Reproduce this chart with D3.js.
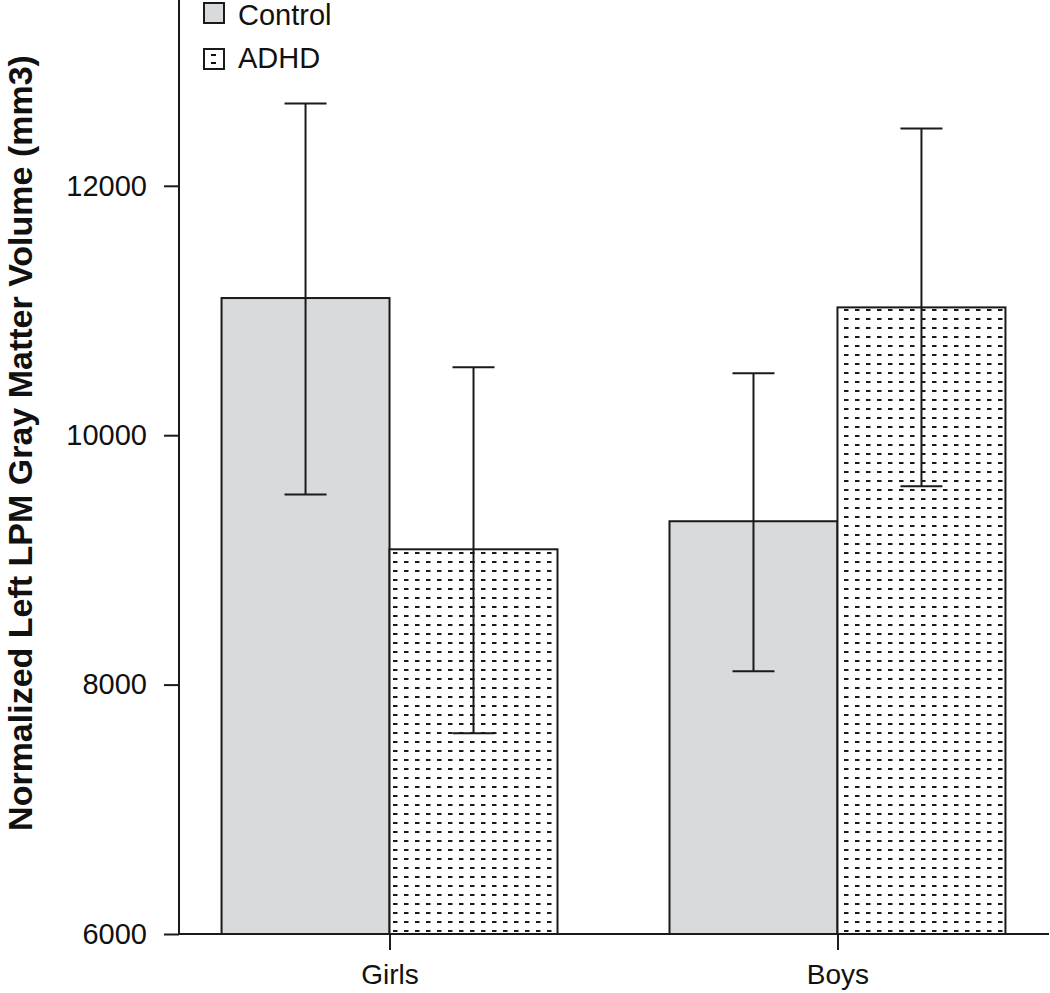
<!DOCTYPE html>
<html><head><meta charset="utf-8">
<script src="https://cdn.jsdelivr.net/npm/d3@7"></script>
<style>body{margin:0;background:#fff}svg{display:block}text{font-family:"Liberation Sans",Arial,sans-serif}</style>
</head><body>
<script>
const categories = ["Girls", "Boys"];
const groups = ["Control", "ADHD"];
const controlMean = [11100, 9310];
const controlLow = [9525, 8108];
const controlHigh = [12660, 10497];
const adhdMean = [9085, 11025];
const adhdLow = [7610, 9590];
const adhdHigh = [10545, 12460];
const yTicks = [6000, 8000, 10000, 12000];

const W = 1050, H = 993;
const FONT = "Liberation Sans, Arial, sans-serif";
const svg = d3.select("body").append("svg").attr("width", W).attr("height", H);
const defs = svg.append("defs");
const pat = defs.append("pattern").attr("id", "dots").attr("patternUnits", "userSpaceOnUse")
  .attr("width", 11).attr("height", 9).attr("x", 393).attr("y", 552);
pat.append("rect").attr("width", 11).attr("height", 9).attr("fill", "#fff");
pat.append("rect").attr("x", 0).attr("y", 0).attr("width", 4.5).attr("height", 2).attr("fill", "#1a1a1a");

const y = d3.scaleLinear().domain([6000, 13490]).range([934, 0]);
const x0 = d3.scaleBand().domain(categories).range([179, 1048]).paddingInner(0.25).paddingOuter(0.095);
const x1 = d3.scaleBand().domain(groups).range([0, x0.bandwidth()]);

const data = [];
categories.forEach((c, i) => {
  data.push({c, g: "Control", v: controlMean[i], lo: controlLow[i], hi: controlHigh[i]});
  data.push({c, g: "ADHD", v: adhdMean[i], lo: adhdLow[i], hi: adhdHigh[i]});
});
const fill = g => g === "Control" ? "#d9dadc" : "url(#dots)";

svg.selectAll("rect.bar").data(data).enter().append("rect").attr("class", "bar")
  .attr("x", d => x0(d.c) + x1(d.g)).attr("width", x1.bandwidth())
  .attr("y", d => y(d.v)).attr("height", d => y(6000) - y(d.v))
  .attr("fill", d => fill(d.g)).attr("stroke", "#1a1a1a").attr("stroke-width", 2);

const cap = 21;
const cx = d => x0(d.c) + x1(d.g) + x1.bandwidth() / 2;
const eb = svg.selectAll("g.eb").data(data).enter().append("g").attr("stroke", "#1a1a1a").attr("stroke-width", 2);
eb.append("line").attr("x1", cx).attr("x2", cx).attr("y1", d => y(d.lo)).attr("y2", d => y(d.hi));
eb.append("line").attr("x1", d => cx(d) - cap).attr("x2", d => cx(d) + cap).attr("y1", d => y(d.hi)).attr("y2", d => y(d.hi));
eb.append("line").attr("x1", d => cx(d) - cap).attr("x2", d => cx(d) + cap).attr("y1", d => y(d.lo)).attr("y2", d => y(d.lo));

// Y axis
const ya = svg.append("g").attr("transform", "translate(179,0)")
  .call(d3.axisLeft(y).tickValues(yTicks).tickSize(15).tickPadding(17).tickFormat(d3.format("d")));
ya.attr("font-size", 29).attr("font-family", FONT);
ya.select(".domain").attr("stroke", "#1a1a1a").attr("stroke-width", 2).attr("d", "M0,934V-2");
ya.selectAll(".tick line").attr("stroke", "#1a1a1a").attr("stroke-width", 2);
ya.selectAll(".tick text").attr("fill", "#111");

// X axis
const xa = svg.append("g").attr("transform", "translate(0,934)")
  .call(d3.axisBottom(d3.scalePoint().domain(categories).range([x0("Girls") + x0.bandwidth() / 2, x0("Boys") + x0.bandwidth() / 2])).tickSize(16).tickPadding(14));
xa.attr("font-size", 28).attr("font-family", FONT);
xa.select(".domain").attr("stroke", "#1a1a1a").attr("stroke-width", 2).attr("d", "M179,0H1049");
xa.selectAll(".tick line").attr("stroke", "#1a1a1a").attr("stroke-width", 2);
xa.selectAll(".tick text").attr("fill", "#111");

// Y title
svg.append("text").attr("transform", "translate(32,443) rotate(-90)").attr("text-anchor", "middle")
  .attr("font-size", 34).attr("font-weight", "bold").attr("fill", "#111")
  .text("Normalized Left LPM Gray Matter Volume (mm3)");

// Legend
const lg = svg.append("g");
groups.forEach((g, i) => {
  lg.append("rect").attr("x", 204).attr("y", 3 + i * 46).attr("width", 20).attr("height", 20)
    .attr("fill", g === "Control" ? "#d9dadc" : "#fff").attr("stroke", "#1a1a1a").attr("stroke-width", 2);
  if (g === "ADHD") {
    lg.append("rect").attr("x", 211).attr("y", 54).attr("width", 5).attr("height", 2).attr("fill", "#111");
    lg.append("rect").attr("x", 211).attr("y", 62).attr("width", 5).attr("height", 2).attr("fill", "#111");
  }
  lg.append("text").attr("x", 238).attr("y", 25 + i * 43).attr("font-size", 29).attr("fill", "#111").text(g);
});
</script>
</body></html>
